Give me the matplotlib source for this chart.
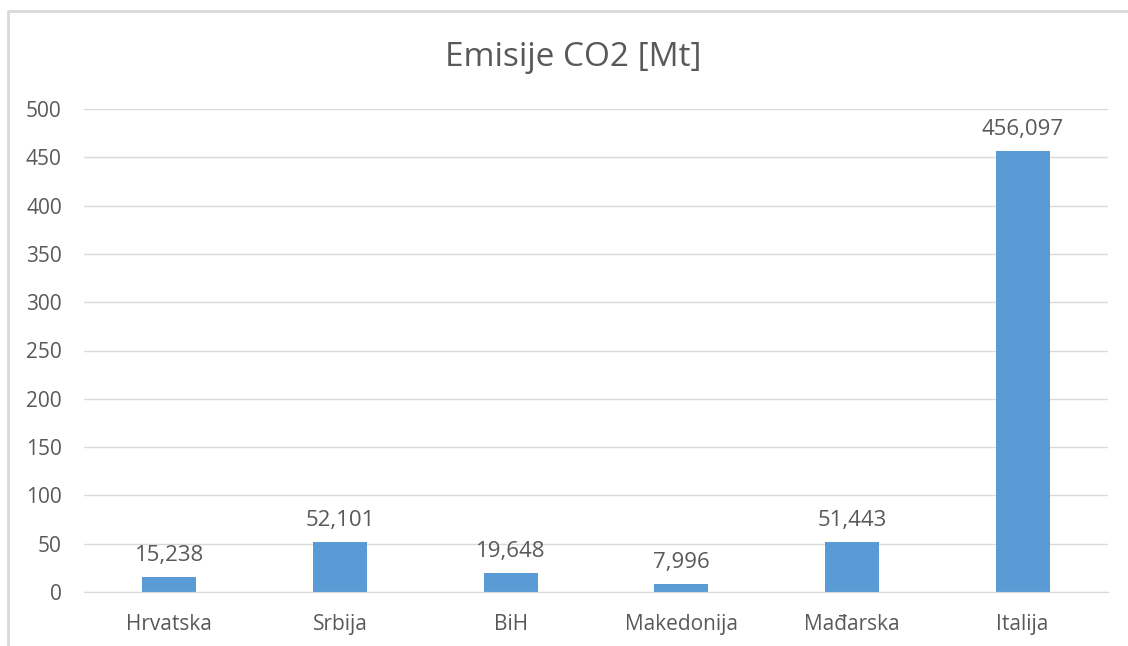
import matplotlib
matplotlib.use("Agg")
import matplotlib.pyplot as plt
from matplotlib.lines import Line2D

categories = ["Hrvatska", "Srbija", "BiH", "Makedonija", "Mađarska", "Italija"]
values = [15.238, 52.101, 19.648, 7.996, 51.443, 456.097]
yticks = [0, 50, 100, 150, 200, 250, 300, 350, 400, 450, 500]
title = "Emisije CO2 [Mt]"

plt.rcParams['font.family'] = ['Open Sans', 'DejaVu Sans']
text_color = "#595959"
W, H = 1128, 646
fig = plt.figure(figsize=(W / 100, H / 100), dpi=100)
ax = fig.add_axes([84 / W, (H - 592) / H, (1108 - 84) / W, (592 - 109) / H])

x = list(range(len(categories)))
bars = ax.bar(x, values, width=0.316, color="#5B9BD5", zorder=3)
for xi, v in zip(x, values):
    ax.annotate(f"{v:.3f}".replace(".", ","), (xi, v), xytext=(0, 8),
                textcoords="offset points", ha="center", va="bottom",
                fontsize=16, color=text_color)

ax.set_xlim(-0.5, len(categories) - 0.5)
ax.set_ylim(0, 500)
ax.set_yticks(yticks)
ax.set_yticklabels([str(t) for t in yticks])
ax.set_xticks(x)
ax.set_xticklabels(categories)
ax.tick_params(axis="both", length=0, labelsize=15, colors=text_color)
ax.tick_params(axis="y", pad=16)
ax.tick_params(axis="x", pad=16)
ax.grid(axis="y", color="#D9D9D9", linewidth=1, zorder=0)
for s in ["top", "right", "left"]:
    ax.spines[s].set_visible(False)
ax.spines["bottom"].set_color("#D9D9D9")
ax.spines["bottom"].set_zorder(4)

fig.text(573 / W, 1 - 57 / H, title, ha="center", va="center", fontsize=24,
         color=text_color)

fig.add_artist(Line2D([8 / W, 8 / W, 1], [0, 1 - 11 / H, 1 - 11 / H],
                      transform=fig.transFigure, color="#D9D9D9", linewidth=2))

fig.savefig("out.png", dpi=100)
